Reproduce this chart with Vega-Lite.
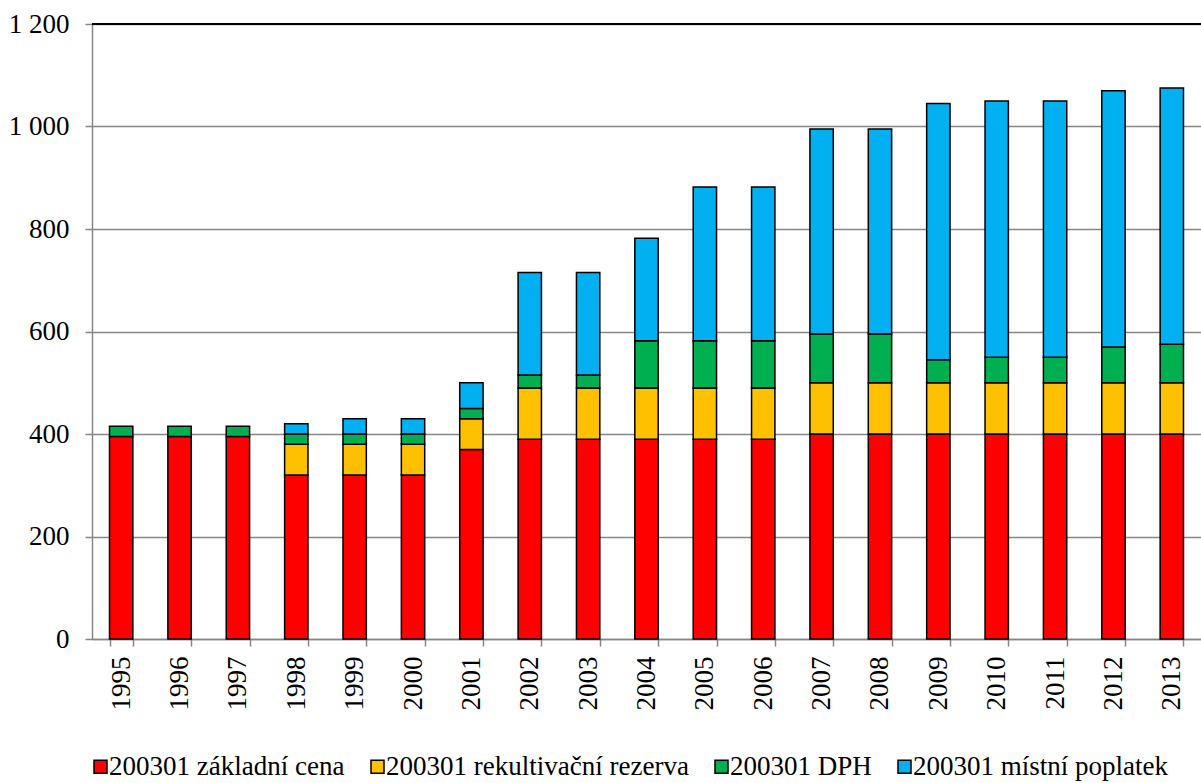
{
  "$schema": "https://vega.github.io/schema/vega-lite/v6.json",
  "width": 1109,
  "height": 615,
  "autosize": "none",
  "padding": {"left": 92, "top": 24, "right": 0, "bottom": 144},
  "config": {
    "font": "'Liberation Serif', 'Times New Roman', serif",
    "view": {"stroke": null}
  },
  "data": {
    "values": [
      {"year": "1995", "cat": "200301 základní cena", "o": 1, "v": 395},
      {"year": "1995", "cat": "200301 DPH", "o": 3, "v": 20},
      {"year": "1996", "cat": "200301 základní cena", "o": 1, "v": 395},
      {"year": "1996", "cat": "200301 DPH", "o": 3, "v": 20},
      {"year": "1997", "cat": "200301 základní cena", "o": 1, "v": 395},
      {"year": "1997", "cat": "200301 DPH", "o": 3, "v": 20},
      {"year": "1998", "cat": "200301 základní cena", "o": 1, "v": 320},
      {"year": "1998", "cat": "200301 rekultivační rezerva", "o": 2, "v": 60},
      {"year": "1998", "cat": "200301 DPH", "o": 3, "v": 20},
      {"year": "1998", "cat": "200301 místní poplatek", "o": 4, "v": 20},
      {"year": "1999", "cat": "200301 základní cena", "o": 1, "v": 320},
      {"year": "1999", "cat": "200301 rekultivační rezerva", "o": 2, "v": 60},
      {"year": "1999", "cat": "200301 DPH", "o": 3, "v": 20},
      {"year": "1999", "cat": "200301 místní poplatek", "o": 4, "v": 30},
      {"year": "2000", "cat": "200301 základní cena", "o": 1, "v": 320},
      {"year": "2000", "cat": "200301 rekultivační rezerva", "o": 2, "v": 60},
      {"year": "2000", "cat": "200301 DPH", "o": 3, "v": 20},
      {"year": "2000", "cat": "200301 místní poplatek", "o": 4, "v": 30},
      {"year": "2001", "cat": "200301 základní cena", "o": 1, "v": 370},
      {"year": "2001", "cat": "200301 rekultivační rezerva", "o": 2, "v": 60},
      {"year": "2001", "cat": "200301 DPH", "o": 3, "v": 20},
      {"year": "2001", "cat": "200301 místní poplatek", "o": 4, "v": 50},
      {"year": "2002", "cat": "200301 základní cena", "o": 1, "v": 390},
      {"year": "2002", "cat": "200301 rekultivační rezerva", "o": 2, "v": 100},
      {"year": "2002", "cat": "200301 DPH", "o": 3, "v": 25},
      {"year": "2002", "cat": "200301 místní poplatek", "o": 4, "v": 200},
      {"year": "2003", "cat": "200301 základní cena", "o": 1, "v": 390},
      {"year": "2003", "cat": "200301 rekultivační rezerva", "o": 2, "v": 100},
      {"year": "2003", "cat": "200301 DPH", "o": 3, "v": 25},
      {"year": "2003", "cat": "200301 místní poplatek", "o": 4, "v": 200},
      {"year": "2004", "cat": "200301 základní cena", "o": 1, "v": 390},
      {"year": "2004", "cat": "200301 rekultivační rezerva", "o": 2, "v": 100},
      {"year": "2004", "cat": "200301 DPH", "o": 3, "v": 92},
      {"year": "2004", "cat": "200301 místní poplatek", "o": 4, "v": 200},
      {"year": "2005", "cat": "200301 základní cena", "o": 1, "v": 390},
      {"year": "2005", "cat": "200301 rekultivační rezerva", "o": 2, "v": 100},
      {"year": "2005", "cat": "200301 DPH", "o": 3, "v": 92},
      {"year": "2005", "cat": "200301 místní poplatek", "o": 4, "v": 300},
      {"year": "2006", "cat": "200301 základní cena", "o": 1, "v": 390},
      {"year": "2006", "cat": "200301 rekultivační rezerva", "o": 2, "v": 100},
      {"year": "2006", "cat": "200301 DPH", "o": 3, "v": 92},
      {"year": "2006", "cat": "200301 místní poplatek", "o": 4, "v": 300},
      {"year": "2007", "cat": "200301 základní cena", "o": 1, "v": 400},
      {"year": "2007", "cat": "200301 rekultivační rezerva", "o": 2, "v": 100},
      {"year": "2007", "cat": "200301 DPH", "o": 3, "v": 95},
      {"year": "2007", "cat": "200301 místní poplatek", "o": 4, "v": 400},
      {"year": "2008", "cat": "200301 základní cena", "o": 1, "v": 400},
      {"year": "2008", "cat": "200301 rekultivační rezerva", "o": 2, "v": 100},
      {"year": "2008", "cat": "200301 DPH", "o": 3, "v": 95},
      {"year": "2008", "cat": "200301 místní poplatek", "o": 4, "v": 400},
      {"year": "2009", "cat": "200301 základní cena", "o": 1, "v": 400},
      {"year": "2009", "cat": "200301 rekultivační rezerva", "o": 2, "v": 100},
      {"year": "2009", "cat": "200301 DPH", "o": 3, "v": 45},
      {"year": "2009", "cat": "200301 místní poplatek", "o": 4, "v": 500},
      {"year": "2010", "cat": "200301 základní cena", "o": 1, "v": 400},
      {"year": "2010", "cat": "200301 rekultivační rezerva", "o": 2, "v": 100},
      {"year": "2010", "cat": "200301 DPH", "o": 3, "v": 50},
      {"year": "2010", "cat": "200301 místní poplatek", "o": 4, "v": 500},
      {"year": "2011", "cat": "200301 základní cena", "o": 1, "v": 400},
      {"year": "2011", "cat": "200301 rekultivační rezerva", "o": 2, "v": 100},
      {"year": "2011", "cat": "200301 DPH", "o": 3, "v": 50},
      {"year": "2011", "cat": "200301 místní poplatek", "o": 4, "v": 500},
      {"year": "2012", "cat": "200301 základní cena", "o": 1, "v": 400},
      {"year": "2012", "cat": "200301 rekultivační rezerva", "o": 2, "v": 100},
      {"year": "2012", "cat": "200301 DPH", "o": 3, "v": 70},
      {"year": "2012", "cat": "200301 místní poplatek", "o": 4, "v": 500},
      {"year": "2013", "cat": "200301 základní cena", "o": 1, "v": 400},
      {"year": "2013", "cat": "200301 rekultivační rezerva", "o": 2, "v": 100},
      {"year": "2013", "cat": "200301 DPH", "o": 3, "v": 75},
      {"year": "2013", "cat": "200301 místní poplatek", "o": 4, "v": 500}
    ]
  },
  "layer": [
    {
      "mark": {"type": "bar", "stroke": "#000000", "strokeWidth": 1.5},
      "encoding": {
        "x": {
          "field": "year",
          "type": "nominal",
          "sort": null,
          "scale": {"paddingInner": 0.6, "paddingOuter": 0.3},
          "axis": {
            "title": null,
            "labelAngle": -90,
            "labelFont": "'Liberation Serif', 'Times New Roman', serif",
            "labelFontSize": 27,
            "labelColor": "#000000",
            "tickBand": "extent",
            "tickSize": 7,
            "tickColor": "#868686",
            "tickWidth": 1.5,
            "domainColor": "#868686",
            "domainWidth": 1.5,
            "labelPadding": 10,
            "grid": false
          }
        },
        "y": {
          "field": "v",
          "type": "quantitative",
          "stack": "zero",
          "scale": {"domain": [0, 1200], "nice": false},
          "axis": {
            "title": null,
            "values": [0, 200, 400, 600, 800, 1000, 1200],
            "labelExpr": "replace(format(datum.value, ','), ',', ' ')",
            "labelFont": "'Liberation Serif', 'Times New Roman', serif",
            "labelFontSize": 27,
            "labelColor": "#000000",
            "tickSize": 7,
            "tickColor": "#868686",
            "tickWidth": 1.5,
            "domainColor": "#868686",
            "domainWidth": 1.5,
            "gridColor": "#868686",
            "gridWidth": 1.5,
            "labelPadding": 16
          }
        },
        "order": {"field": "o", "type": "quantitative"},
        "color": {
          "field": "cat",
          "type": "nominal",
          "scale": {
            "domain": ["200301 základní cena", "200301 rekultivační rezerva", "200301 DPH", "200301 místní poplatek"],
            "range": ["#FF0000", "#FFC000", "#00B050", "#00B0F0"]
          },
          "legend": {
            "title": null,
            "orient": "bottom",
            "direction": "horizontal",
            "offset": 43,
            "padding": 0,
            "labelFont": "'Liberation Serif', 'Times New Roman', serif",
            "labelFontSize": 27,
            "labelColor": "#000000",
            "labelLimit": 600,
            "symbolType": "square",
            "symbolSize": 169,
            "symbolStrokeColor": "#000000",
            "symbolStrokeWidth": 1.5,
            "symbolOpacity": 1,
            "symbolOffset": -5,
            "labelOffset": -5,
            "columnPadding": 23
          }
        }
      }
    },
    {
      "mark": {"type": "rule", "color": "#000000", "strokeWidth": 1.5},
      "encoding": {"y": {"datum": 1200}}
    }
  ]
}
